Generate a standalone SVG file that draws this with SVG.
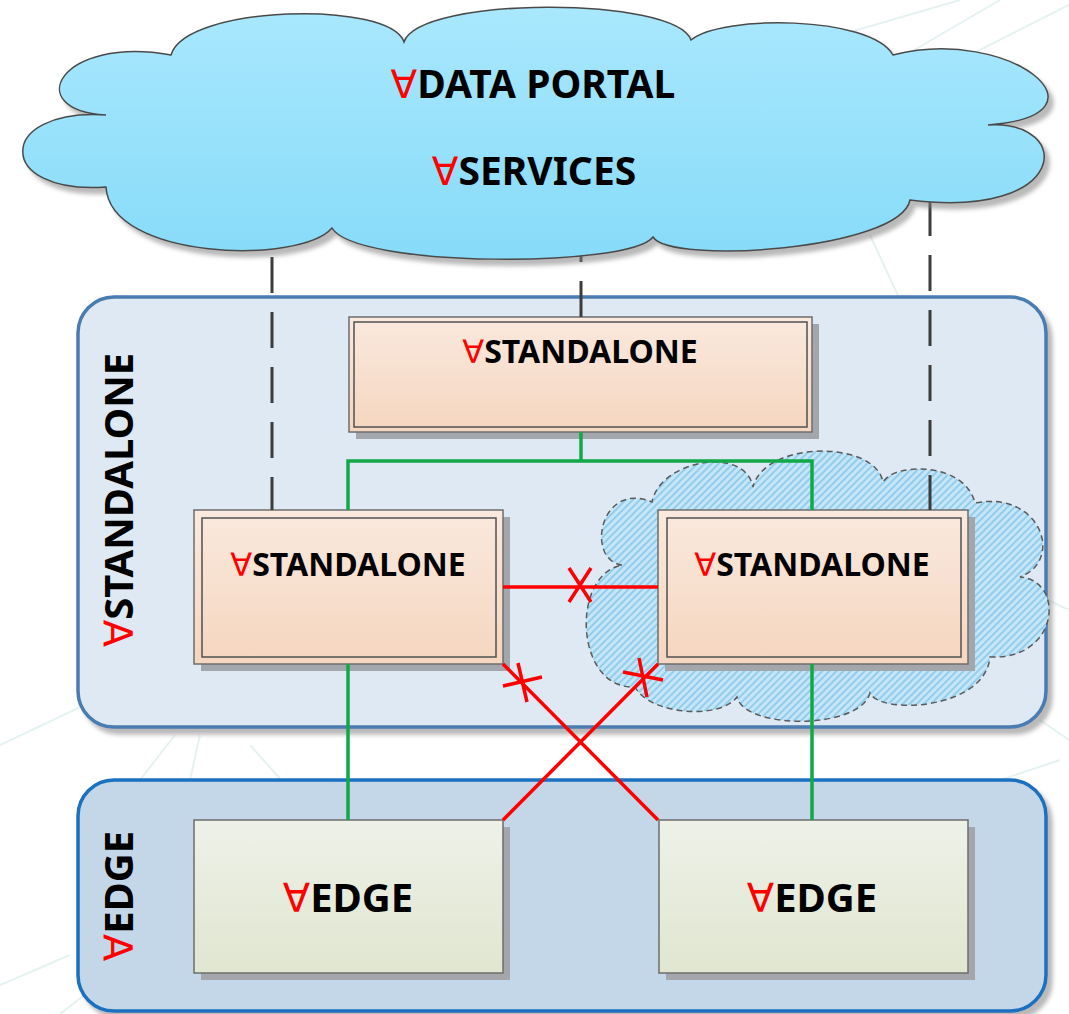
<svg xmlns="http://www.w3.org/2000/svg" width="1069" height="1014" viewBox="0 0 1069 1014">
<defs>
<style>
.lbl{font-family:"Noto Sans","Open Sans","DejaVu Sans",sans-serif;font-weight:bold;fill:#000}
.fa{fill:#ff0000;font-weight:normal;font-family:"DejaVu Sans",sans-serif}
.bg{stroke:#e6f2f2;stroke-width:2;fill:none}
.dash{stroke:#3c3c3c;stroke-width:3;stroke-dasharray:36 19;fill:none}
.grn{stroke:#12a84a;stroke-width:3.5;fill:none}
.red{stroke:#ff0000;stroke-width:3.5;fill:none}
.outer{stroke:#6d6d6d;stroke-width:1.5}
.inner{fill:none;stroke:#505050;stroke-width:1.5}
.shadow{fill:#a3a7ac}
</style>
<linearGradient id="gBox" x1="0" y1="0" x2="0" y2="1">
<stop offset="0" stop-color="#fae9de"/><stop offset="1" stop-color="#f5d6bf"/>
</linearGradient>
<linearGradient id="gEdge" x1="0" y1="0" x2="0" y2="1">
<stop offset="0" stop-color="#eef1e8"/><stop offset="1" stop-color="#e0e6d0"/>
</linearGradient>
<linearGradient id="gCloud" x1="0" y1="0" x2="0" y2="1">
<stop offset="0" stop-color="#a9e8fd"/><stop offset="1" stop-color="#87dbf9"/>
</linearGradient>
<pattern id="hatch" width="5" height="5" patternUnits="userSpaceOnUse" patternTransform="rotate(45)">
<rect width="5" height="5" fill="#c6e6f7"/>
<rect width="2" height="5" fill="#93cdee"/>
</pattern>
<filter id="sh" x="-5%" y="-5%" width="112%" height="115%">
<feDropShadow dx="5" dy="6" stdDeviation="2" flood-color="#808080" flood-opacity="0.55"/>
</filter>
</defs>
<rect width="1069" height="1014" fill="#ffffff"/>
<g id="background">
<path class="bg" d="M1000,0 L880,70 M1069,5 L960,60 M0,745 L95,700 M140,780 L175,735 M190,780 L200,735 M250,745 L290,790 M0,985 L70,955 M60,1014 L110,975 M900,300 L870,235 M1069,740 L1040,720 M1069,610 L1048,600 M1000,780 L1060,760 M840,35 L960,0"/>
</g>
<g id="container-standalone">
<rect x="78" y="297" width="968" height="430" rx="36" fill="#dfe9f3" stroke="#4a7bb1" stroke-width="3.5" filter="url(#sh)"/>
<text class="lbl" font-size="40" text-anchor="middle" transform="translate(133,500) rotate(-90)"><tspan class="fa">∀</tspan>STANDALONE</text>
</g>
<g id="container-edge">
<rect x="78" y="780" width="968" height="231" rx="36" fill="#c4d7e8" stroke="#1a6fc0" stroke-width="3.5" filter="url(#sh)"/>
<text class="lbl" font-size="40" text-anchor="middle" transform="translate(133,896) rotate(-90)"><tspan class="fa">∀</tspan>EDGE</text>
</g>
<g id="local-cloud">
<path d="M622,565 C585,560 600,480 652,502 C660,460 745,445 753,487 C765,440 875,440 883,482 C895,462 965,462 975,503 C1040,490 1065,560 1020,577 C1065,580 1060,660 990,657 C985,710 880,715 870,693 C860,730 745,730 737,697 C720,720 650,715 635,687 C575,690 570,575 622,565 Z" fill="url(#hatch)" stroke="#5a5a5a" stroke-width="1.5" stroke-dasharray="6 4"/>
</g>
<g id="node-standalone-top">
<rect class="shadow" x="356" y="324" width="463" height="115"/>
<rect class="outer" x="349" y="317" width="463" height="115" fill="url(#gBox)"/>
<rect class="inner" x="354" y="322" width="453" height="105"/>
<text class="lbl" font-size="32" x="580" y="363" text-anchor="middle"><tspan class="fa">∀</tspan>STANDALONE</text>
</g>
<g id="node-standalone-left">
<rect class="shadow" x="201" y="517" width="309" height="154"/>
<rect class="outer" x="194" y="510" width="309" height="154" fill="url(#gBox)"/>
<rect class="inner" x="202" y="518" width="294" height="139"/>
<text class="lbl" font-size="32" x="348" y="576" text-anchor="middle"><tspan class="fa">∀</tspan>STANDALONE</text>
</g>
<g id="node-standalone-right">
<rect class="shadow" x="665" y="517" width="310" height="154"/>
<rect class="outer" x="658" y="510" width="310" height="154" fill="url(#gBox)"/>
<rect class="inner" x="667" y="518" width="294" height="139"/>
<text class="lbl" font-size="32" x="812" y="576" text-anchor="middle"><tspan class="fa">∀</tspan>STANDALONE</text>
</g>
<g id="node-edge-left">
<rect class="shadow" x="201" y="827" width="309" height="153"/>
<rect class="outer" x="194" y="820" width="309" height="153" fill="url(#gEdge)"/>
<text class="lbl" font-size="40" x="348" y="912" text-anchor="middle"><tspan class="fa">∀</tspan>EDGE</text>
</g>
<g id="node-edge-right">
<rect class="shadow" x="666" y="827" width="309" height="153"/>
<rect class="outer" x="659" y="820" width="309" height="153" fill="url(#gEdge)"/>
<text class="lbl" font-size="40" x="812" y="912" text-anchor="middle"><tspan class="fa">∀</tspan>EDGE</text>
</g>
<g id="connectors">
<line class="dash" x1="272" y1="257" x2="272" y2="510"/>
<line class="dash" x1="581" y1="226" x2="581" y2="317"/>
<line class="dash" x1="930" y1="200" x2="930" y2="510"/>
<path class="grn" d="M581,432 V461 M348,510 V461 H812 V510"/>
<path class="grn" d="M348,664 V820 M812,664 V820"/>
<path class="red" d="M503,587 H658"/>
<path class="red" d="M569,568 L591,602 M591,568 L569,602"/>
<path class="red" d="M503,664 L658,820"/>
<path class="red" d="M503,686 L542,677 M518,663 L527,702"/>
<path class="red" d="M658,664 L503,820"/>
<path class="red" d="M623,672 L663,680 M639,658 L647,697"/>
</g>
<g id="node-cloud-portal">
<path d="M171,55 C185,5 390,0 404,42 C420,-4 675,-4 691,40 C720,15 870,15 893,55 C1010,25 1120,115 988,125 C1075,120 1070,220 910,200 C900,250 670,265 653,237 C630,268 355,268 332,228 C300,265 110,260 106,187 C-5,195 -5,108 106,115 C20,110 60,35 171,55 Z" fill="url(#gCloud)" stroke="#4a4a4a" stroke-width="1.5" filter="url(#sh)"/>
<text class="lbl" font-size="39" x="533" y="98" text-anchor="middle"><tspan class="fa">∀</tspan>DATA PORTAL</text>
<text class="lbl" font-size="39" x="534" y="185" text-anchor="middle"><tspan class="fa">∀</tspan>SERVICES</text>
</g>
</svg>
